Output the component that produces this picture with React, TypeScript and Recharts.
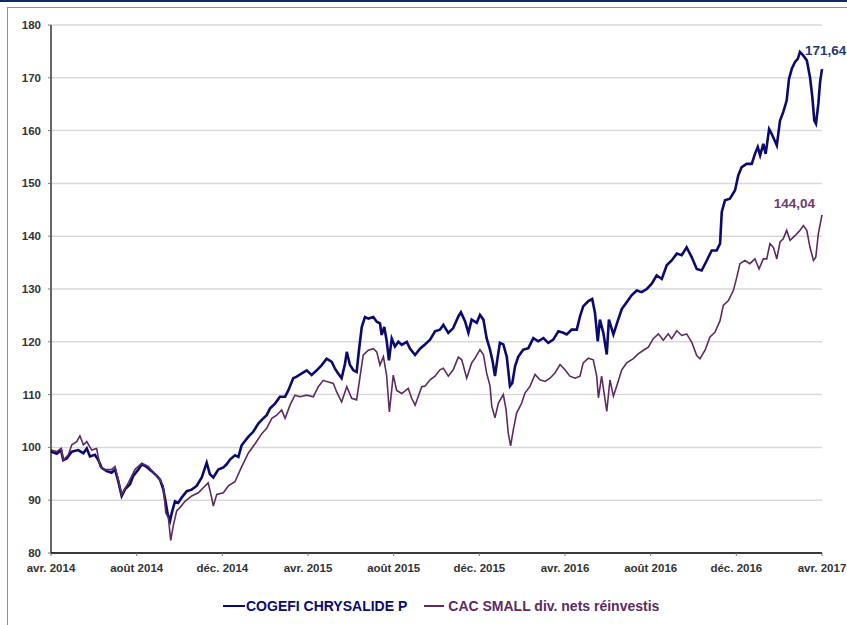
import React from "react";
import { LineChart, Line, XAxis, YAxis, CartesianGrid } from "recharts";

// months since avr. 2014
const fundMonths = [0,0.27,0.47,0.57,0.73,0.97,1.27,1.51,1.67,1.82,2.05,2.21,2.37,2.60,2.83,2.99,3.14,3.30,3.46,3.69,3.84,4.08,4.24,4.47,4.70,4.94,5.09,5.24,5.36,5.45,5.56,5.64,5.79,5.94,6.10,6.34,6.57,6.80,7.04,7.27,7.42,7.58,7.81,8.05,8.20,8.36,8.59,8.75,8.90,9.21,9.45,9.68,9.91,10.07,10.23,10.46,10.69,10.93,11.08,11.31,11.47,11.71,11.94,12.17,12.41,12.64,12.87,13.11,13.26,13.41,13.57,13.73,13.81,13.96,14.12,14.27,14.38,14.51,14.66,14.82,15.05,15.21,15.36,15.44,15.56,15.67,15.78,15.91,16.06,16.22,16.38,16.61,16.76,17.00,17.23,17.46,17.70,17.93,18.16,18.32,18.55,18.78,19.02,19.14,19.33,19.49,19.64,19.88,20.03,20.19,20.34,20.50,20.62,20.73,20.86,20.96,21.12,21.28,21.43,21.54,21.67,21.82,22.05,22.29,22.52,22.75,22.99,23.22,23.45,23.69,23.92,24.08,24.31,24.55,24.70,24.85,25.09,25.27,25.40,25.53,25.63,25.79,25.95,26.05,26.26,26.46,26.65,26.88,27.11,27.35,27.58,27.82,28.05,28.28,28.52,28.75,28.98,29.22,29.45,29.68,29.92,30.15,30.38,30.62,30.85,31.08,31.24,31.32,31.47,31.70,31.94,32.09,32.25,32.48,32.72,32.87,33.00,33.11,33.26,33.37,33.53,33.65,33.89,34.04,34.19,34.35,34.46,34.59,34.74,34.87,34.97,35.13,35.29,35.44,35.55,35.64,35.72,35.83,35.91,36];
const fundValues = [99.2,98.8,99.5,97.6,97.9,99.2,99.5,98.9,99.8,98.3,98.6,97.6,96.1,95.5,95.2,95.8,93.6,90.8,92.1,93.0,94.6,95.8,96.8,96.3,95.5,94.6,93.9,92.1,89.5,87.3,86.1,87.6,89.8,89.5,90.5,91.7,92.0,92.7,94.3,97.1,94.9,94.3,95.8,96.2,96.8,97.7,98.5,98.2,100.4,102.0,103.0,104.5,105.5,106.1,107.4,108.3,109.6,109.6,110.8,113.1,113.4,114.0,114.6,113.7,114.6,115.6,116.8,116.2,114.9,114.0,113.1,115.9,118.1,115.6,114.6,114.3,118.4,122.8,124.7,124.4,124.7,123.8,123.5,121.3,122.8,120.3,116.5,120.6,119.1,120.0,119.4,120.0,118.7,117.5,118.7,119.5,120.4,122.0,122.3,123.2,121.7,122.6,124.8,125.6,123.9,121.7,124.2,123.6,125.1,124.2,120.7,118.5,116.3,113.5,117.2,119.8,119.5,117.2,111.6,112.2,115.4,117.2,118.5,118.8,120.7,120.1,120.7,119.8,120.4,122.0,121.7,121.4,122.3,122.3,124.8,126.7,127.7,128.1,125.5,120.1,124.2,121.7,117.6,124.2,121.4,123.9,126.2,127.5,128.8,129.7,129.4,130.0,131.0,132.6,131.9,134.5,135.4,136.7,136.4,137.9,136.0,133.8,133.5,135.4,137.3,137.3,138.6,144.6,146.8,147.1,148.7,151.5,153.1,153.7,153.7,155.6,156.9,155.3,157.5,155.6,160.3,159.4,157.2,161.9,163.5,165.7,169.8,171.7,173.0,173.6,174.9,174.2,173.3,170.1,166.3,161.9,161.3,165.1,169.2,171.64];

const indexMonths = [0,0.27,0.47,0.57,0.81,0.97,1.20,1.35,1.51,1.67,1.90,2.13,2.29,2.52,2.83,2.99,3.14,3.30,3.61,3.92,4.24,4.54,4.86,5.09,5.24,5.36,5.48,5.59,5.71,5.87,6.02,6.26,6.57,6.88,7.19,7.34,7.50,7.58,7.74,8.05,8.28,8.59,8.90,9.21,9.53,9.84,10.07,10.31,10.54,10.77,10.93,11.16,11.39,11.63,11.94,12.25,12.48,12.71,12.95,13.18,13.34,13.57,13.81,14.04,14.27,14.43,14.58,14.82,15.05,15.21,15.36,15.52,15.67,15.80,15.98,16.14,16.38,16.68,16.84,17.00,17.31,17.46,17.70,17.93,18.16,18.32,18.55,18.78,19.02,19.18,19.41,19.64,19.80,20.03,20.19,20.34,20.50,20.58,20.73,20.89,21.12,21.25,21.35,21.46,21.59,21.74,21.98,22.13,22.37,22.60,22.83,23.07,23.30,23.53,23.77,24.00,24.23,24.47,24.70,24.85,25.09,25.32,25.48,25.56,25.71,25.95,26.10,26.26,26.46,26.65,26.88,27.19,27.42,27.66,27.89,28.12,28.36,28.59,28.82,28.98,29.22,29.45,29.68,29.92,30.15,30.30,30.54,30.77,31.00,31.24,31.39,31.63,31.86,32.02,32.17,32.40,32.63,32.87,33.06,33.26,33.42,33.57,33.73,33.89,34.04,34.19,34.35,34.51,34.74,34.97,35.13,35.29,35.44,35.60,35.71,35.83,36];
const indexValues = [99.5,99.2,99.8,97.6,98.6,100.5,101.1,102.2,100.5,101.1,99.5,99.8,96.4,95.8,95.8,96.4,93.9,91.1,93.3,95.8,97.0,96.4,94.9,93.9,92.7,87.6,86.7,82.4,85.2,88.0,88.6,89.8,90.8,91.4,92.7,93.3,90.5,88.9,91.1,91.4,92.7,93.5,96.3,98.9,100.7,102.6,103.6,105.5,106.1,107.1,105.5,108.0,109.9,109.6,109.9,109.6,111.5,112.7,112.4,112.1,110.5,108.6,111.5,109.3,109.0,113.4,117.5,118.4,118.7,118.1,115.6,117.2,113.7,106.7,113.7,110.8,110.2,111.2,109.3,108.0,111.5,111.6,112.8,113.5,114.7,115.0,113.5,114.7,117.1,116.6,113.1,116.0,116.9,118.5,117.6,114.1,111.6,107.8,105.6,108.4,110.0,107.1,102.7,100.3,103.4,106.5,108.4,110.3,111.6,113.8,112.8,112.5,113.1,114.1,115.7,114.7,113.5,113.1,113.5,116.0,116.9,116.6,113.5,109.4,113.5,106.8,112.8,109.7,112.2,114.7,116.0,116.8,117.7,118.4,119.0,120.6,121.5,120.3,121.5,120.6,122.1,121.2,121.5,119.9,117.4,116.8,118.4,120.9,121.8,124.0,126.9,127.8,129.7,132.2,134.8,135.4,134.8,135.7,133.8,135.7,135.7,138.6,137.9,135.7,138.9,139.5,141.1,139.2,140.1,141.1,142.0,141.1,137.9,135.4,136.0,140.5,144.04];

const tickMonths = [0, 4, 8, 12, 16, 20, 24, 28, 32, 36];
const tickLabels = ["avr. 2014", "août 2014", "déc. 2014", "avr. 2015", "août 2015", "déc. 2015", "avr. 2016", "août 2016", "déc. 2016", "avr. 2017"];
const yTicks = [80, 90, 100, 110, 120, 130, 140, 150, 160, 170, 180];

const seriesNames = ["COGEFI CHRYSALIDE P", "CAC SMALL div. nets réinvestis"];

const fundData = fundMonths.map((m, i) => ({ m, v: fundValues[i] }));
const indexData = indexMonths.map((m, i) => ({ m, v: indexValues[i] }));

const FONT = '"Liberation Sans", Arial, sans-serif';
const NAVY = "#0b0b6e";
const PLUM = "#5c2c5f";

const fmt = (v: number) => v.toFixed(2).replace(".", ",");

// only the last point gets its value written next to it
const endLabel = (lastIndex: number, color: string, dx: number, dy: number, anchor: string) => (p: any) => {
  if (p.index !== lastIndex) return null;
  return (
    <text x={p.x + dx} y={p.y + dy} fill={color} fontSize={13.5} fontWeight="bold" fontFamily={FONT} textAnchor={anchor}>
      {fmt(p.value)}
    </text>
  );
};

export default function App() {
  return (
    <div style={{ position: "absolute", left: 0, top: 0, width: 847, height: 625, overflow: "hidden", background: "#fff" }}>
      <div style={{ position: "absolute", left: 0, top: 0, width: 847, height: 2, background: "#14285a" }} />
      <div style={{ position: "absolute", left: 7, top: 7, width: 900, height: 700, border: "1.5px solid #8e8e8e" }} />
      <div style={{ position: "absolute", left: 0, top: 0 }}>
        <LineChart width={847} height={625} margin={{ top: 25, right: 25, bottom: 42, left: 11 }}>
          <CartesianGrid vertical={false} stroke="#d9d9d9" strokeWidth={1.5} />
          <XAxis
            type="number"
            dataKey="m"
            domain={[0, 36]}
            ticks={tickMonths}
            interval={0}
            tickFormatter={(v: number) => tickLabels[tickMonths.indexOf(v)]}
            height={30}
            axisLine={{ stroke: "#000", strokeWidth: 1.3 }}
            tickLine={{ stroke: "#777" }}
            tickSize={3}
            tickMargin={8}
            tick={{ fill: "#333", fontSize: 11.5, fontWeight: "bold", fontFamily: FONT }}
          />
          <YAxis
            type="number"
            domain={[80, 180]}
            ticks={yTicks}
            interval={0}
            width={40}
            axisLine={{ stroke: "#000", strokeWidth: 1.2 }}
            tickLine={{ stroke: "#777" }}
            tickSize={3}
            tickMargin={7}
            tick={{ fill: "#333", fontSize: 11.5, fontWeight: "bold", fontFamily: FONT }}
          />
          <Line
            data={fundData}
            dataKey="v"
            name={seriesNames[0]}
            stroke={NAVY}
            strokeWidth={2.6}
            dot={false}
            isAnimationActive={false}
            label={endLabel(fundData.length - 1, "#1e3a78", -17, -14, "start")}
          />
          <Line
            data={indexData}
            dataKey="v"
            name={seriesNames[1]}
            stroke={PLUM}
            strokeWidth={1.6}
            dot={false}
            isAnimationActive={false}
            label={endLabel(indexData.length - 1, "#6e3c6e", -7, -7, "end")}
          />
        </LineChart>
      </div>
      <div style={{ position: "absolute", left: 223, top: 598, display: "flex", alignItems: "center", fontFamily: FONT, fontWeight: "bold", fontSize: 14, lineHeight: "16px" }}>
        <span style={{ display: "inline-block", width: 22, height: 2.5, background: NAVY, marginRight: 1 }} />
        <span style={{ color: NAVY }}>{seriesNames[0]}</span>
        <span style={{ display: "inline-block", width: 20, height: 1.6, background: PLUM, marginLeft: 17, marginRight: 4 }} />
        <span style={{ color: PLUM }}>{seriesNames[1]}</span>
      </div>
    </div>
  );
}
